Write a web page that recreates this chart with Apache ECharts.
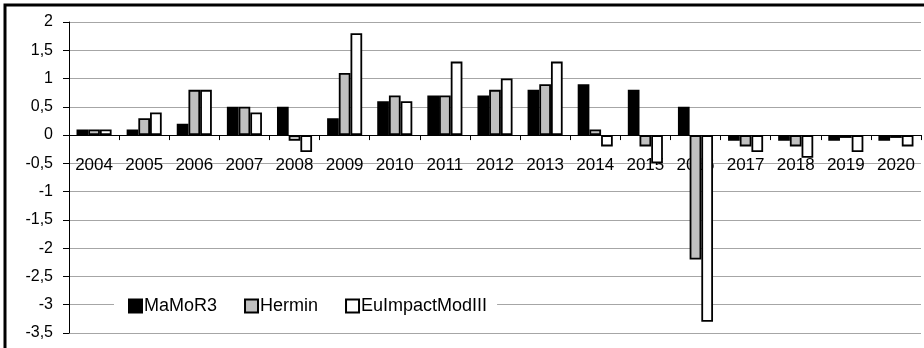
<!DOCTYPE html>
<html>
<head>
<meta charset="utf-8">
<script src="https://cdn.jsdelivr.net/npm/echarts@6/dist/echarts.min.js"></script>
<style>
html,body{margin:0;padding:0;background:#fff;}
#c{width:924px;height:348px;}
</style>
</head>
<body>
<div id="c"></div>
<script>
var categories = ['2004','2005','2006','2007','2008','2009','2010','2011','2012','2013','2014','2015','2016','2017','2018','2019','2020'];
var seriesNames = ['MaMoR3','Hermin','EuImpactModIII'];
var mamor3 = [0.1,0.1,0.2,0.5,0.5,0.3,0.6,0.7,0.7,0.8,0.9,0.8,0.5,-0.1,-0.1,-0.1,-0.1];
var hermin = [0.1,0.3,0.8,0.5,-0.1,1.1,0.7,0.7,0.8,0.9,0.1,-0.2,-2.2,-0.2,-0.2,-0.05,-0.05];
var euimpact = [0.1,0.4,0.8,0.4,-0.3,1.8,0.6,1.3,1.0,1.3,-0.2,-0.5,-3.3,-0.3,-0.4,-0.3,-0.2];
var yMin = -3.5, yMax = 2, yStep = 0.5;

var colors = ['#000000','#c0c0c0','#ffffff'];
var font = '"Liberation Sans", Arial, sans-serif';
var dataSets = [mamor3, hermin, euimpact];

var chart = echarts.init(document.getElementById('c'), null, {renderer:'canvas'});
chart.setOption({
  animation:false,
  backgroundColor:'#fff',
  textStyle:{fontFamily:font},
  grid:{left:69,right:3,top:22,bottom:15,containLabel:false,outerBoundsMode:'none'},
  legend:{
    left:114, top:292,
    padding:[5,10,5,14],
    backgroundColor:'#ffffff',
    itemWidth:13, itemHeight:13, itemGap:27,
    icon:'rect',
    textStyle:{fontFamily:font,fontSize:18,color:'#000',padding:[0,0,0,-3]},
    data:seriesNames
  },
  xAxis:[{
    type:'category', data:categories,
    axisLine:{show:true,onZero:true,lineStyle:{color:'#000',width:1}},
    axisTick:{show:true,alignWithLabel:false,length:5,lineStyle:{color:'#000'}},
    axisLabel:{show:false},
    splitLine:{show:false}
  },{
    type:'category', data:categories, position:'bottom',
    axisLine:{show:false,onZero:false},
    axisTick:{show:false},
    axisLabel:{color:'#000',fontSize:17,fontFamily:font,margin:-176,interval:0},
    splitLine:{show:false}
  }],
  yAxis:{
    type:'value', min:yMin, max:yMax, interval:yStep,
    axisLine:{show:true,lineStyle:{color:'#000',width:1}},
    axisTick:{show:true,length:6,lineStyle:{color:'#000'}},
    axisLabel:{color:'#000',fontSize:16,fontFamily:font,margin:16,
      formatter:function(v){return String(v).replace('.',',');}},
    splitLine:{show:true,lineStyle:{color:'#a6a6a6',width:1}}
  },
  series: seriesNames.map(function(n,i){
    return {
      name:n, type:'bar', data:dataSets[i], xAxisIndex:0,
      barGap:'0%', barCategoryGap:'30%',
      itemStyle:{color:colors[i],borderColor:'#000',borderWidth:1.8}
    };
  }),
  graphic:[{
    type:'rect', silent:true, z:100,
    shape:{x:5,y:5,width:1200,height:1200},
    style:{fill:'none',stroke:'#000',lineWidth:3}
  }]
});
</script>
</body>
</html>
